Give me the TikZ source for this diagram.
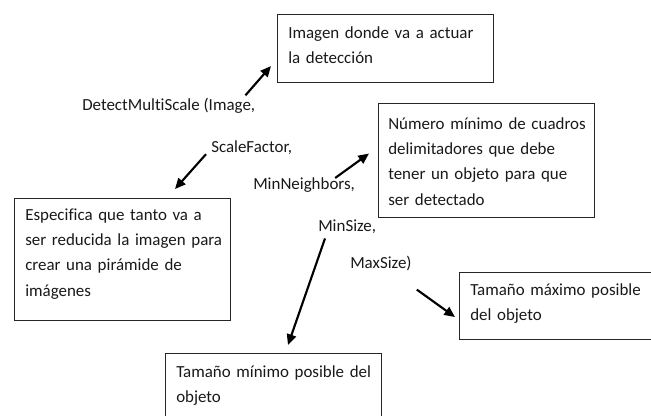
\documentclass[tikz,border=0pt]{standalone}
\usepackage{fontspec}
\setmainfont{Carlito}[Ligatures={NoCommon}]
\usetikzlibrary{arrows.meta,calc}
\tikzset{
  cbox/.style={draw=black!85, line width=0.8pt, anchor=north west, minimum width=162pt, inner sep=0pt},
  btext/.style={anchor=base west, inner sep=0pt, align=left, text width=150pt, text=black!90,
    font=\fontsize{12.7pt}{19pt}\selectfont},
  lbl/.style={anchor=base west, inner sep=0pt, text=black!90, font=\fontsize{12.7pt}{19pt}\selectfont},
  arr/.style={line width=1.6pt, -{Triangle[length=8pt,width=7pt]}}
}
\begin{document}
\begin{tikzpicture}[x=0.75pt,y=-0.75pt]
\useasboundingbox (0,0) rectangle (651,415);
\fill[white] (0,0) rectangle (651,415);
% boxes
\node[cbox, minimum height=51pt] (b1) at (277,14) {};
\node[cbox, minimum height=85.5pt] (b2) at (378,103) {};
\node[cbox, minimum height=91.5pt] (b3) at (14,198) {};
\node[cbox, minimum height=50.25pt] (b4) at (459,272) {};
\node[cbox, minimum height=54pt] (b5) at (165,353) {};
% box texts
\node[btext] (t1) at (288,38) {Imagen donde va a actuar\\la detección};
\node[btext] (t2) at (388,129) {Número mínimo de cuadros\\delimitadores que debe\\tener un objeto para que\\ser detectado};
\node[btext] (t3) at (25,220) {Especifica que tanto va a\\ser reducida la imagen para\\crear una pirámide de\\imágenes};
\node[btext] (t4) at (470,295) {Tamaño máximo posible\\del objeto};
\node[btext] (t5) at (176,377) {Tamaño mínimo posible del\\objeto};
% labels
\node[lbl] (dms) at (82,110) {DetectMultiScale (Image,};
\node[lbl] (sf) at (211,152) {ScaleFactor,};
\node[lbl] (mn) at (253,189) {MinNeighbors,};
\node[lbl] (ms) at (318,231) {MinSize,};
\node[lbl] (mx) at (350,268) {MaxSize)};
% arrows
\draw[arr] ($(dms.north east)+(-10,-2)$) -- ($(b1.south west)+(-6,-17)$);
\draw[arr] ($(sf.west)+(-5,7)$) -- ($(b3.north west)+(161,-9)$);
\draw[arr] ($(mn.north east)+(-20,1)$) -- ($(b2.west)+(-9,-7)$);
\draw[arr] ($(ms.south west)+(7,5)$) -- ($(b5.north west)+(123,-8)$);
\draw[arr] ($(mx.south east)+(5,19)$) -- ($(b4.west)+(-4,11)$);
\end{tikzpicture}
\end{document}
